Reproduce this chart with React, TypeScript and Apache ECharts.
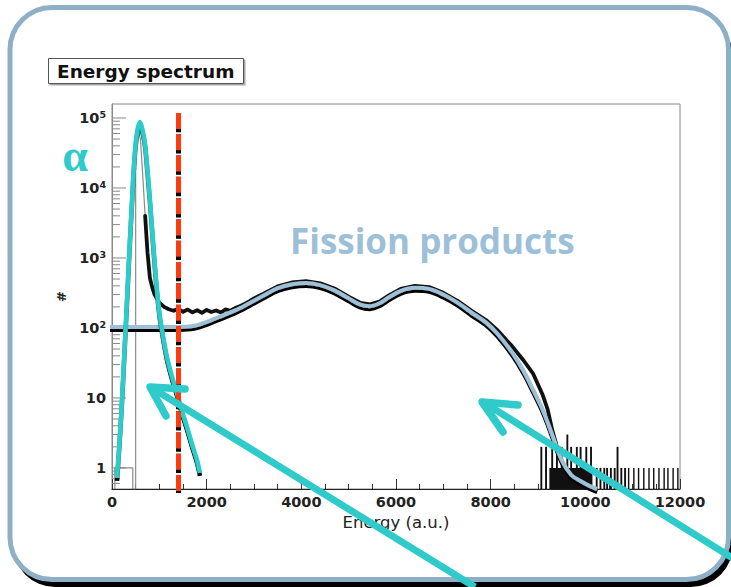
import React, { useEffect, useRef } from "react";
import * as echarts from "echarts";

// ---- data ----
const X_MIN = 0;
const X_MAX = 12000;
const Y_MIN = 0.5;
const Y_MAX = 158489;

// measured histogram, low-energy edge and alpha peak (thin grey)
const edgeE = [60, 60, 440, 440, 500, 500, 530, 560, 600, 650, 700];
const edgeV = [0.5, 1, 1, 0.5, 0.5, 2e4, 5.5e4, 6.2e4, 5e4, 1.5e4, 4000];

// measured histogram (black)
const histE = [700, 750, 800, 850, 900,
  1000, 1100, 1200, 1300, 1400, 1500, 1600, 1700, 1800, 1900, 2000, 2100, 2200, 2300, 2400, 2500,
  2600, 2700, 2800, 2900, 3000, 3200, 3500, 3800, 4100, 4400, 4700, 5000, 5250, 5450, 5650, 5850,
  6100, 6400, 6700, 7000, 7300, 7600, 7900, 8150, 8450, 8700, 8900, 9100, 9200, 9300, 9400];
const histV = [4000, 1200, 520, 380, 300,
  230, 200, 185, 176, 188, 170, 183, 167, 179, 164, 181, 169, 178, 166, 184, 176,
  192, 204, 220, 240, 265, 308, 392, 446, 466, 435, 366, 281, 228, 218, 239, 292,
  361, 398, 384, 318, 244, 176, 130, 92, 55, 34, 22, 11, 7, 3.5, 2];

// sparse tail bins: [start, end, counts]
const tailBins = [
  [9050, 9090, 2], [9150, 9190, 2], [9240, 10150, 1], [9280, 9320, 3], [9380, 9420, 2],
  [9480, 9520, 2], [9600, 9640, 3], [9680, 9720, 2], [9800, 9840, 2], [9880, 9920, 2],
  [10000, 10040, 2], [10100, 10140, 2], [10220, 10260, 1], [10300, 10340, 1], [10380, 10420, 1],
  [10440, 10480, 1], [10520, 10560, 1], [10600, 10640, 1], [10660, 10700, 2], [10740, 10780, 1],
  [10820, 10860, 1], [10900, 10930, 1], [11010, 11040, 1], [11110, 11140, 1], [11220, 11250, 1],
  [11330, 11360, 1], [11430, 11460, 1], [11540, 11570, 1], [11650, 11680, 1], [11730, 11760, 1],
  [11840, 11870, 1], [11940, 11970, 1],
];

// hand-drawn fission-fragment curve (light blue)
const fitE = [-200, 0, 500, 1000, 1500, 1800, 2200, 2600, 2900, 3200, 3500, 3800, 4100, 4400,
  4700, 5000, 5250, 5450, 5650, 5850, 6100, 6400, 6700, 7000, 7300, 7600, 7900, 8150, 8450, 8700,
  8900, 9100, 9300, 9500, 9700, 9900, 10100, 10250];
const fitV = [103, 103, 103, 103, 104, 110, 138, 178, 226, 290, 370, 420, 440, 410,
  345, 265, 215, 205, 225, 275, 340, 375, 362, 300, 230, 165, 120, 82, 45, 24,
  13, 6.8, 3, 1.3, 0.8, 0.65, 0.55, 0.5];

// hand-drawn alpha peak (teal)
const alphaE = [106, 160, 211, 265, 317, 370, 423, 465, 507, 550, 592, 640, 697, 750, 803, 856,
  909, 960, 1014, 1090, 1162, 1270, 1373, 1480, 1585, 1690, 1796, 1859];
const alphaV = [0.72, 2.5, 9.4, 50, 251, 1400, 6700, 2.2e4, 4.85e4, 7.5e4, 8.8e4, 7e4, 4.4e4,
  1.8e4, 6700, 2200, 744, 300, 144, 70, 38.5, 20, 11.8, 6.5, 3.85, 2.2, 1.3, 0.85];

// threshold (red dashed line)
const cutE = 1405;
const cutTop = 1.18e5;
const cutBottom = 0.44;

// log-axis ticks
const yDecades = [0, 1, 2, 3, 4, 5];
const yMinorMantissa = [2, 3, 4, 5, 6, 7, 8, 9];
const yLowMinor = [0.6, 0.7, 0.8, 0.9];

const TEAL = "#2FCBCB";
const FIT_BLUE = "#9DC0D6";

export default function App() {
  const ref = useRef<HTMLDivElement>(null);

  useEffect(() => {
    if (!ref.current) return;
    const chart = echarts.init(ref.current, undefined, { renderer: "svg" });

    const yTicks: number[][] = [];
    yDecades.forEach((d) => yTicks.push([0, Math.pow(10, d), 1]));
    yDecades.slice(0, 5).forEach((d) =>
      yMinorMantissa.forEach((m) => yTicks.push([0, m * Math.pow(10, d), 0]))
    );
    yLowMinor.forEach((v) => yTicks.push([0, v, 0]));

    const supFmt = (v: number) => {
      const l = Math.log10(v);
      const e = Math.round(l);
      if (Math.abs(l - e) > 1e-6) return "";
      if (e === 0) return "{b|1}";
      if (e === 1) return "{b|10}";
      return "{b|10}{s|" + e + "}";
    };

    const option: any = {
      animation: false,
      title: {
        text: "Energy spectrum",
        left: 48,
        top: 58,
        padding: [4, 9, 3, 9],
        borderColor: "#555",
        borderWidth: 1,
        backgroundColor: "#fff",
        shadowColor: "rgba(0,0,0,0.35)",
        shadowOffsetX: 1.5,
        shadowOffsetY: 1.5,
        shadowBlur: 1,
        textStyle: { fontFamily: "DejaVu Sans", fontWeight: "bold", fontSize: 18.5, color: "#111" },
      },
      grid: {
        left: 112,
        right: 51,
        top: 104,
        bottom: 98,
        show: true,
        borderColor: "#888",
        borderWidth: 1,
        backgroundColor: "#fff",
      },
      xAxis: {
        type: "value",
        min: X_MIN,
        max: X_MAX,
        interval: 2000,
        axisLine: { show: true, onZero: false, lineStyle: { color: "#222", width: 1.2 } },
        axisTick: { show: true, inside: true, length: 10, lineStyle: { color: "#333" } },
        minorTick: { show: true, splitNumber: 4, length: 5, lineStyle: { color: "#333" } },
        splitLine: { show: false },
        axisLabel: {
          margin: 5,
          fontFamily: "DejaVu Sans",
          fontWeight: "bold",
          fontSize: 14.5,
          color: "#222",
          formatter: (v: number) => String(v),
        },
        name: "Energy (a.u.)",
        nameLocation: "middle",
        nameGap: 22,
        nameTextStyle: { fontFamily: "DejaVu Sans", fontSize: 16.5, color: "#222" },
      },
      yAxis: {
        type: "log",
        logBase: 10,
        min: Y_MIN,
        max: Y_MAX,
        axisLine: { show: true, lineStyle: { color: "#888" } },
        axisTick: { show: false },
        splitLine: { show: false },
        axisLabel: {
          margin: 6,
          showMinLabel: false,
          showMaxLabel: false,
          formatter: supFmt,
          rich: {
            b: { fontFamily: "DejaVu Sans", fontWeight: "bold", fontSize: 14.5, color: "#222" },
            s: {
              fontFamily: "DejaVu Sans",
              fontWeight: "bold",
              fontSize: 9.5,
              color: "#222",
              verticalAlign: "top",
              padding: [0, 0, 7, 0],
            },
          },
        },
        name: "#",
        nameLocation: "middle",
        nameGap: 44,
        nameTextStyle: { fontFamily: "DejaVu Sans", fontWeight: "bold", fontSize: 13, color: "#222" },
      },
      graphic: [
        {
          type: "rect",
          z: -20,
          silent: true,
          shape: { x: 13, y: 15, width: 720, height: 572, r: 42 },
          style: { fill: "#000" },
        },
        {
          type: "rect",
          z: -10,
          silent: true,
          shape: { x: 10, y: 7.5, width: 718.5, height: 572, r: 42 },
          style: { fill: "#fff", stroke: "#8DB0C6", lineWidth: 5 },
        },
        {
          type: "text",
          z: 50,
          x: 290,
          y: 240,
          style: {
            text: "Fission products",
            fontFamily: "Open Sans",
            fontWeight: "bold",
            fontSize: 35,
            fill: "#9CC0D8",
            align: "left",
            verticalAlign: "middle",
          },
        },
        {
          type: "text",
          z: 50,
          x: 75,
          y: 155,
          style: {
            text: "α",
            fontFamily: "Liberation Serif",
            fontWeight: "bold",
            fontSize: 46,
            fill: TEAL,
            align: "center",
            verticalAlign: "middle",
          },
        },
        // arrow to the alpha region
        {
          type: "line",
          z: 100,
          shape: { x1: 152, y1: 388, x2: 475, y2: 587 },
          style: { stroke: TEAL, lineWidth: 7 },
        },
        {
          type: "polyline",
          z: 100,
          shape: { points: [[185, 389], [150, 387], [166, 416]] },
          style: { stroke: TEAL, lineWidth: 7.5, fill: "none", lineJoin: "round", lineCap: "round" },
        },
        // arrow to the fission region
        {
          type: "line",
          z: 100,
          shape: { x1: 483, y1: 402, x2: 745, y2: 566 },
          style: { stroke: TEAL, lineWidth: 7 },
        },
        {
          type: "polyline",
          z: 100,
          shape: { points: [[518, 405], [482, 402], [503, 432]] },
          style: { stroke: TEAL, lineWidth: 7.5, fill: "none", lineJoin: "round", lineCap: "round" },
        },
      ],
      series: [
        {
          type: "custom",
          name: "yticks",
          silent: true,
          z: 2,
          clip: false,
          data: yTicks,
          renderItem: (params: any, api: any) => {
            const p = api.coord([0, api.value(1)]);
            const len = api.value(2) === 1 ? 14 : 8;
            return {
              type: "line",
              shape: { x1: p[0], y1: p[1], x2: p[0] + len, y2: p[1] },
              style: { stroke: "#888", lineWidth: 1 },
            };
          },
        },
        {
          type: "line",
          name: "edge",
          silent: true,
          z: 3,
          showSymbol: false,
          data: edgeE.map((e, i) => [e, edgeV[i]]),
          lineStyle: { color: "#8a8a8a", width: 1.2 },
        },
        {
          type: "line",
          name: "histogram",
          silent: true,
          z: 3,
          showSymbol: false,
          data: histE.map((e, i) => [e, histV[i]]),
          lineStyle: { color: "#111", width: 3.8, join: "round", cap: "round" },
        },
        {
          type: "custom",
          name: "tail",
          silent: true,
          z: 3,
          data: tailBins,
          renderItem: (params: any, api: any) => {
            const p0 = api.coord([api.value(0), api.value(2)]);
            const p1 = api.coord([api.value(1), Y_MIN]);
            return {
              type: "rect",
              shape: { x: p0[0], y: p0[1], width: Math.max(p1[0] - p0[0], 1), height: p1[1] - p0[1] },
              style: { fill: "#111" },
            };
          },
        },
        {
          type: "line",
          name: "fission",
          silent: true,
          z: 5,
          clip: false,
          smooth: 0.35,
          showSymbol: false,
          data: fitE.map((e, i) => [e, fitV[i]]),
          lineStyle: {
            color: FIT_BLUE,
            width: 4,
            shadowColor: "#000",
            shadowOffsetY: 3,
            shadowOffsetX: 0,
            shadowBlur: 0,
          },
        },
        {
          type: "line",
          name: "alpha",
          silent: true,
          z: 6,
          clip: false,
          smooth: 0.3,
          showSymbol: false,
          data: alphaE.map((e, i) => [e, alphaV[i]]),
          lineStyle: {
            color: TEAL,
            width: 4.5,
            shadowColor: "#000",
            shadowOffsetY: 3,
            shadowOffsetX: 0,
            shadowBlur: 0,
          },
        },
        {
          type: "custom",
          name: "cut",
          silent: true,
          z: 7,
          clip: false,
          data: [[cutE, cutTop, cutBottom]],
          renderItem: (params: any, api: any) => {
            const t = api.coord([api.value(0), api.value(1)]);
            const b = api.coord([api.value(0), api.value(2)]);
            return {
              type: "group",
              children: [
                {
                  type: "line",
                  shape: { x1: t[0], y1: t[1], x2: b[0], y2: b[1] },
                  style: { stroke: "#000", lineWidth: 5, lineDash: [19.3, 2] },
                },
                {
                  type: "line",
                  shape: { x1: t[0], y1: t[1], x2: b[0], y2: b[1] },
                  style: { stroke: "#FF3A0E", lineWidth: 5, lineDash: [16, 5.3] },
                },
              ],
            };
          },
        },
      ],
    };

    chart.setOption(option);
    return () => chart.dispose();
  }, []);

  return (
    <div
      ref={ref}
      style={{ position: "fixed", left: 0, top: 0, width: 731, height: 587, background: "#fff" }}
    />
  );
}
